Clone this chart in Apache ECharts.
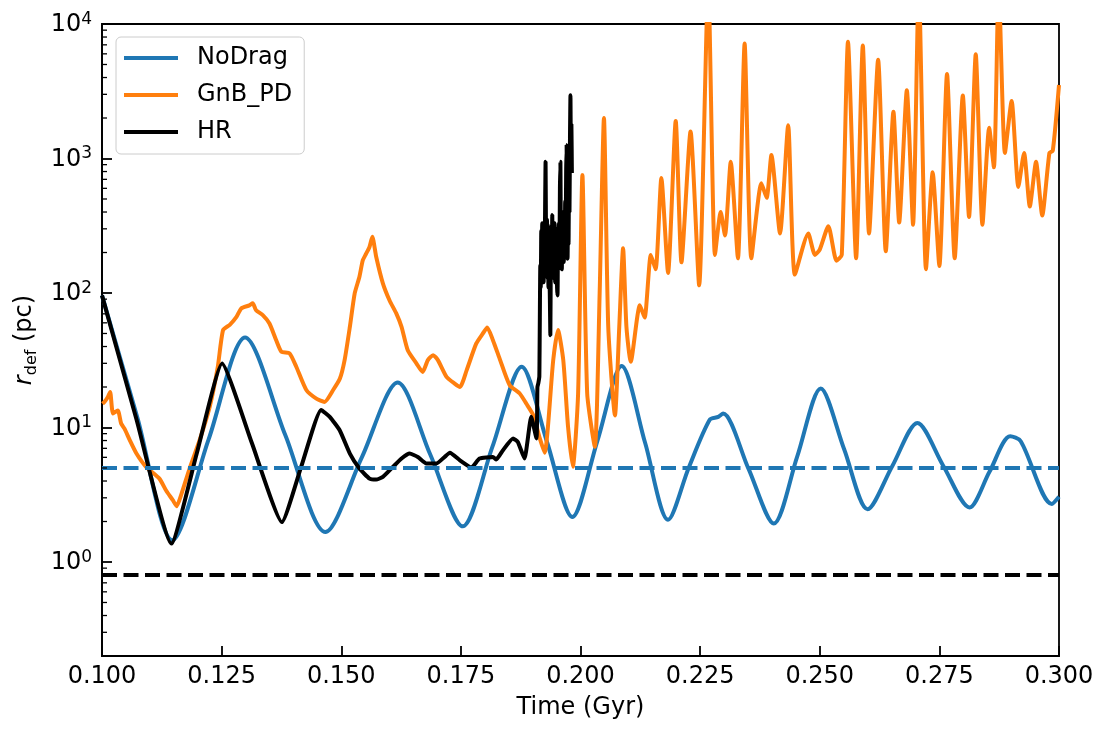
<!DOCTYPE html>
<html>
<head>
<meta charset="utf-8">
<script src="https://cdn.jsdelivr.net/npm/echarts@6/dist/echarts.min.js"></script>
<style>
  html, body { margin: 0; padding: 0; background: #ffffff; }
  #chart { width: 1110px; height: 735px; }
</style>
</head>
<body>
<div id="chart"></div>
<script>
// ---- data (time in Gyr, r_def in pc) ----
const seriesNames = ['NoDrag', 'GnB_PD', 'HR'];
const xTicks = [0.100, 0.125, 0.150, 0.175, 0.200, 0.225, 0.250, 0.275, 0.300];
const yMajorTicks = [1, 10, 100, 1000, 10000];
const yMinorTicks = [0.2, 0.3, 0.4, 0.5, 0.6, 0.7, 0.8, 0.9,
  2, 3, 4, 5, 6, 7, 8, 9, 20, 30, 40, 50, 60, 70, 80, 90,
  200, 300, 400, 500, 600, 700, 800, 900, 2000, 3000, 4000, 5000, 6000, 7000, 8000, 9000];

const noDrag = [
  [0.1000, 96], [0.1074, 11.8], [0.1147, 1.45], [0.1223, 8.2], [0.1299, 46.7],
  [0.1383, 8.8], [0.1467, 1.67], [0.1543, 6.0], [0.1618, 21.6], [0.1686, 6.3],
  [0.1754, 1.84], [0.1816, 7.2], [0.1877, 28.3], [0.1930, 7.8], [0.1983, 2.16],
  [0.2035, 7.9], [0.2086, 28.6], [0.2135, 7.7], [0.2183, 2.06], [0.2226, 5.0],
  [0.2270, 11.4], [0.2288, 12.0], [0.2298, 12.7], [0.2351, 4.95], [0.2404, 1.93],
  [0.2453, 6.1], [0.2502, 19.5], [0.2551, 6.9], [0.2600, 2.47], [0.2652, 5.2],
  [0.2704, 10.8], [0.2758, 5.2], [0.2813, 2.54], [0.2855, 4.7], [0.2898, 8.6],
  [0.2920, 7.9], [0.2985, 2.7], [0.3000, 3.05]
];

const gnbPD = [
  [0.1001, 15.0], [0.1005, 15.5], [0.1012, 16.8], [0.1017, 18.4], [0.1023, 12.7],
  [0.1033, 13.4], [0.1040, 10.7], [0.1047, 9.8], [0.1058, 8.05], [0.1072, 6.4],
  [0.1092, 5.1], [0.1120, 4.17], [0.1134, 3.4], [0.1148, 2.88], [0.1156, 2.6],
  [0.1166, 3.2], [0.1183, 4.95], [0.1204, 8.05], [0.1225, 14.2], [0.1242, 28.3],
  [0.1253, 53], [0.1267, 58], [0.1281, 66.5], [0.1291, 76.8], [0.1308, 81],
  [0.1315, 83.8], [0.1322, 74.5], [0.1336, 68.4], [0.1350, 59.3], [0.1364, 44.6],
  [0.1375, 36.6], [0.1392, 35.6], [0.1406, 28.3], [0.1427, 19], [0.1448, 16.4],
  [0.1465, 15.5], [0.1483, 19], [0.1497, 23], [0.1507, 31.7], [0.1518, 56],
  [0.1528, 99], [0.1538, 132], [0.1545, 175], [0.1552, 196], [0.1559, 220],
  [0.1565, 262], [0.1573, 186], [0.1587, 118], [0.1601, 88], [0.1615, 70.5],
  [0.1626, 56], [0.1639, 37.5], [0.1657, 30], [0.1670, 25.9], [0.1681, 31.7],
  [0.1692, 34.5], [0.1702, 31.7], [0.1720, 23.8], [0.1737, 21.2], [0.1748, 20],
  [0.1762, 26.6], [0.1782, 42], [0.1796, 50], [0.1805, 55.4], [0.1817, 44.6],
  [0.1831, 32.5], [0.1852, 20.6], [0.1873, 17.9], [0.1887, 15], [0.1901, 12.4],
  [0.1915, 8.3], [0.1925, 6.5], [0.1943, 31.7], [0.1953, 53], [0.1964, 31.7],
  [0.1974, 10.1], [0.1984, 5.1], [0.1995, 17.9], [0.2004, 754], [0.2014, 17.9],
  [0.2030, 7.2], [0.2040, 99], [0.2049, 2000], [0.2058, 56], [0.2072, 12.3],
  [0.2081, 56], [0.2089, 215], [0.2096, 56], [0.2105, 30.8], [0.2124, 81],
  [0.2134, 65.6], [0.2147, 192], [0.2157, 150], [0.2169, 717], [0.2183, 141],
  [0.2199, 1900], [0.2211, 169], [0.2230, 1590], [0.2248, 114], [0.2267, 20000],
  [0.2281, 192], [0.2293, 400], [0.2302, 268], [0.2314, 945], [0.2329, 181],
  [0.2343, 7150], [0.2357, 181], [0.2378, 655], [0.2389, 510], [0.2399, 1060],
  [0.2417, 277], [0.2434, 1770], [0.2448, 137], [0.2476, 277], [0.2490, 192],
  [0.2500, 210], [0.2518, 314], [0.2535, 174], [0.2546, 192], [0.2559, 7380],
  [0.2576, 181], [0.2590, 6930], [0.2603, 277], [0.2622, 5420], [0.2638, 204],
  [0.2654, 2230], [0.2666, 334], [0.2682, 3220], [0.2695, 322], [0.2707, 20000],
  [0.2722, 150], [0.2736, 790], [0.2750, 159], [0.2766, 4250], [0.2782, 181],
  [0.2799, 2940], [0.2812, 368], [0.2826, 5950], [0.2840, 322], [0.2854, 1690],
  [0.2864, 860], [0.2874, 20000], [0.2887, 1100], [0.2901, 2680], [0.2915, 615],
  [0.2927, 1100], [0.2939, 440], [0.2952, 945], [0.2965, 377], [0.2980, 1100],
  [0.2987, 1140], [0.3000, 3520]
];

const hr = [
  [0.1000, 96], [0.1072, 11.5], [0.1145, 1.37], [0.1198, 6.4], [0.1251, 29.9],
  [0.1313, 7.7], [0.1376, 1.98], [0.1417, 5.2], [0.1458, 13.5], [0.1476, 12.0],
  [0.1497, 9.5], [0.1518, 6.4], [0.1538, 4.95], [0.1559, 4.17], [0.1573, 4.1],
  [0.1587, 4.29], [0.1608, 5.09], [0.1626, 5.88], [0.1643, 6.4], [0.1660, 6.04],
  [0.1678, 5.4], [0.1699, 5.4], [0.1716, 6.04], [0.1727, 6.5], [0.1748, 5.7],
  [0.1772, 5.04], [0.1789, 5.88], [0.1817, 6.04], [0.1824, 5.78], [0.1838, 6.78],
  [0.1859, 8.28], [0.1869, 7.81], [0.1883, 5.88], [0.1897, 12.0], [0.1908, 8.3],
  [0.1910, 20], [0.1912, 21.5], [0.1914, 24], [0.1916, 160], [0.1917, 110],
  [0.1918, 290], [0.1919, 140], [0.1920, 330], [0.1921, 170], [0.1922, 260],
  [0.1923, 120], [0.1924, 300], [0.1925, 180], [0.1926, 420], [0.1927, 947],
  [0.1928, 230], [0.1929, 130], [0.1930, 350], [0.1931, 200], [0.1932, 310],
  [0.1933, 110], [0.1934, 260], [0.1935, 150], [0.1936, 90], [0.1937, 48.6],
  [0.1938, 190], [0.1939, 330], [0.1940, 160], [0.1941, 380], [0.1942, 220],
  [0.1943, 130], [0.1944, 290], [0.1945, 170], [0.1946, 330], [0.1947, 120],
  [0.1948, 250], [0.1949, 140], [0.1950, 300], [0.1951, 110], [0.1952, 96],
  [0.1953, 240], [0.1954, 150], [0.1955, 330], [0.1956, 200], [0.1957, 600],
  [0.1958, 947], [0.1959, 250], [0.1960, 370], [0.1961, 150], [0.1962, 320],
  [0.1963, 190], [0.1964, 400], [0.1965, 170], [0.1966, 350], [0.1967, 220],
  [0.1968, 480], [0.1969, 260], [0.1970, 800], [0.1971, 1260], [0.1972, 350],
  [0.1973, 180], [0.1974, 420], [0.1975, 230], [0.1976, 700], [0.1977, 400],
  [0.1978, 1400], [0.1979, 2950], [0.1980, 900], [0.1981, 1800], [0.1982, 780]
];

const rCoreNoDrag = [[0.100, 5], [0.300, 5]];
const rCoreHR = [[0.100, 0.8], [0.300, 0.8]];

// ---- chart ----
const FONT = 'DejaVu Sans';
const FS = 24;
const LW = 4;
const chart = echarts.init(document.getElementById('chart'), null, { renderer: 'canvas' });

const option = {
  animation: false,
  backgroundColor: '#ffffff',
  textStyle: { fontFamily: FONT },
  grid: {
    left: 102, right: 51, top: 24, bottom: 79,
    show: true, borderColor: '#000', borderWidth: 1.8, backgroundColor: 'transparent'
  },
  legend: {
    data: seriesNames,
    orient: 'vertical',
    left: 116, top: 37,
    icon: 'rect', itemWidth: 54, itemHeight: 4, itemGap: 13,
    padding: [9, 12, 10, 8],
    backgroundColor: 'rgba(255,255,255,0.8)',
    borderColor: '#cccccc', borderWidth: 1, borderRadius: 5,
    textStyle: { fontFamily: FONT, fontSize: FS, color: '#000', lineHeight: 24, padding: [0, 0, 0, 14] }
  },
  xAxis: {
    type: 'value',
    min: xTicks[0], max: xTicks[xTicks.length - 1], interval: 0.025,
    name: 'Time (Gyr)', nameLocation: 'middle', nameGap: 40,
    nameTextStyle: { fontFamily: FONT, fontSize: FS, color: '#000' },
    axisLine: { onZero: false, lineStyle: { color: '#000', width: 1.8 } },
    axisTick: { inside: true, length: 10, lineStyle: { color: '#000', width: 1.8 } },
    axisLabel: {
      fontFamily: FONT, fontSize: FS, color: '#000', margin: 9,
      formatter: v => v.toFixed(3)
    },
    splitLine: { show: false }
  },
  yAxis: {
    type: 'log', logBase: 10,
    min: 0.2, max: yMajorTicks[yMajorTicks.length - 1],
    name: '{i|r}{sub|def} (pc)', nameLocation: 'middle', nameGap: 56, nameRotate: 90,
    nameTextStyle: {
      fontFamily: FONT, fontSize: FS, color: '#000',
      rich: {
        i: { fontFamily: FONT, fontSize: FS, fontStyle: 'italic', verticalAlign: 'middle', lineHeight: 30 },
        sub: { fontFamily: FONT, fontSize: 16, verticalAlign: 'bottom', lineHeight: 30 }
      }
    },
    axisLine: { lineStyle: { color: '#000', width: 1.8 } },
    axisTick: { inside: true, length: 10, lineStyle: { color: '#000', width: 1.8 } },
    axisLabel: {
      margin: 10, showMinLabel: false,
      formatter: function (v) {
        const e = Math.round(Math.log10(v));
        if (Math.abs(Math.pow(10, e) - v) / v > 1e-6) return '';
        return '{b|10}{s|' + e + '}';
      },
      rich: {
        b: { fontFamily: FONT, fontSize: FS, color: '#000', verticalAlign: 'bottom', lineHeight: 26 },
        s: { fontFamily: FONT, fontSize: 17, color: '#000', verticalAlign: 'top', lineHeight: 26 }
      }
    },
    splitLine: { show: false },
    minorTick: { show: false }
  },
  series: [
    {
      name: 'NoDrag', type: 'line', data: noDrag, showSymbol: false, smooth: 0.3,
      color: '#1f77b4', lineStyle: { width: LW, color: '#1f77b4' }, z: 2
    },
    {
      name: 'GnB_PD', type: 'line', data: gnbPD, showSymbol: false, smooth: 0.2,
      color: '#ff7f0e', lineStyle: { width: LW, color: '#ff7f0e' }, z: 3
    },
    {
      name: 'HR', type: 'line', data: hr, showSymbol: false, smooth: 0.15,
      color: '#000000', lineStyle: { width: LW, color: '#000000' }, z: 4
    },
    {
      name: 'rcore_nodrag', type: 'line', data: rCoreNoDrag, showSymbol: false,
      lineStyle: { width: LW, color: '#1f77b4', type: [15, 6.5] }, z: 5, silent: true
    },
    {
      name: 'rcore_hr', type: 'line', data: rCoreHR, showSymbol: false,
      lineStyle: { width: LW, color: '#000000', type: [15, 6.5] }, z: 5, silent: true
    },
    {
      name: 'minorTicks', type: 'custom', silent: true, z: 10,
      data: yMinorTicks.map(v => [xTicks[0], v]),
      renderItem: function (params, api) {
        const y = api.coord([api.value(0), api.value(1)])[1];
        const x0 = params.coordSys.x;
        return {
          type: 'line',
          shape: { x1: x0, y1: y, x2: x0 + 5, y2: y },
          style: { stroke: '#000', lineWidth: 1.3 }
        };
      }
    }
  ]
};
chart.setOption(option);
</script>
</body>
</html>
